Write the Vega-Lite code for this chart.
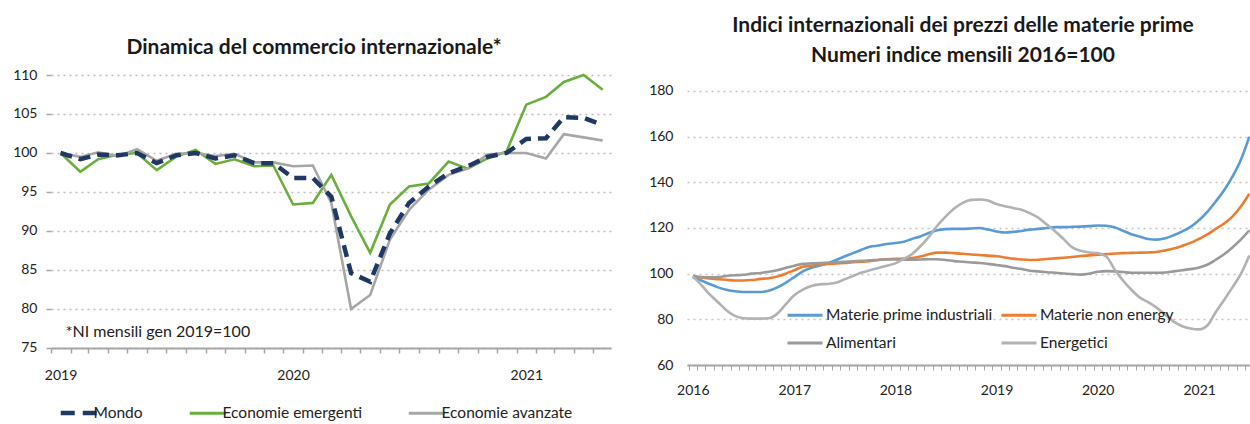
{
  "$schema": "https://vega.github.io/schema/vega-lite/v6.json",
  "background": "white",
  "padding": {"left": 12, "top": 15, "right": 0, "bottom": 0},
  "spacing": 36,
  "resolve": {"scale": {"color": "independent", "x": "independent", "y": "independent"}, "legend": {"color": "independent"}},
  "config": {"font": "Lato", "view": {"stroke": null}},
  "hconcat": [
    {
      "width": 560,
      "height": 290,
      "title": {"text": "Dinamica del commercio internazionale*", "fontSize": 21, "fontWeight": "bold", "frame": "group", "anchor": "middle", "dx": -17, "offset": 10, "color": "#1a1a1a"},
      "layer": [
        {
          "data": {"values": [
            {"d": "2019-01-01", "Mondo": 100, "Economie emergenti": 100, "Economie avanzate": 100},
            {"d": "2019-02-01", "Mondo": 99.2, "Economie emergenti": 97.6, "Economie avanzate": 99.5},
            {"d": "2019-03-01", "Mondo": 99.8, "Economie emergenti": 99.2, "Economie avanzate": 100.1},
            {"d": "2019-04-01", "Mondo": 99.7, "Economie emergenti": 99.8, "Economie avanzate": 99.6},
            {"d": "2019-05-01", "Mondo": 100, "Economie emergenti": 100, "Economie avanzate": 100.5},
            {"d": "2019-06-01", "Mondo": 98.7, "Economie emergenti": 97.8, "Economie avanzate": 99.0},
            {"d": "2019-07-01", "Mondo": 99.7, "Economie emergenti": 99.5, "Economie avanzate": 99.9},
            {"d": "2019-08-01", "Mondo": 100, "Economie emergenti": 100.4, "Economie avanzate": 100},
            {"d": "2019-09-01", "Mondo": 99.3, "Economie emergenti": 98.6, "Economie avanzate": 99.6},
            {"d": "2019-10-01", "Mondo": 99.7, "Economie emergenti": 99.2, "Economie avanzate": 99.9},
            {"d": "2019-11-01", "Mondo": 98.7, "Economie emergenti": 98.3, "Economie avanzate": 98.8},
            {"d": "2019-12-01", "Mondo": 98.7, "Economie emergenti": 98.4, "Economie avanzate": 98.8},
            {"d": "2020-01-01", "Mondo": 96.8, "Economie emergenti": 93.4, "Economie avanzate": 98.3},
            {"d": "2020-02-01", "Mondo": 96.8, "Economie emergenti": 93.6, "Economie avanzate": 98.4},
            {"d": "2020-03-01", "Mondo": 94.4, "Economie emergenti": 97.2, "Economie avanzate": 93.6},
            {"d": "2020-04-01", "Mondo": 84.6, "Economie emergenti": 91.9, "Economie avanzate": 80.0},
            {"d": "2020-05-01", "Mondo": 83.5, "Economie emergenti": 87.2, "Economie avanzate": 81.8},
            {"d": "2020-06-01", "Mondo": 89.7, "Economie emergenti": 93.4, "Economie avanzate": 88.9},
            {"d": "2020-07-01", "Mondo": 93.6, "Economie emergenti": 95.7, "Economie avanzate": 92.7},
            {"d": "2020-08-01", "Mondo": 95.7, "Economie emergenti": 96.1, "Economie avanzate": 95.3},
            {"d": "2020-09-01", "Mondo": 97.4, "Economie emergenti": 98.9, "Economie avanzate": 97.2},
            {"d": "2020-10-01", "Mondo": 98.3, "Economie emergenti": 98.0, "Economie avanzate": 98.0},
            {"d": "2020-11-01", "Mondo": 99.5, "Economie emergenti": 99.3, "Economie avanzate": 99.8},
            {"d": "2020-12-01", "Mondo": 100, "Economie emergenti": 100.2, "Economie avanzate": 100},
            {"d": "2021-01-01", "Mondo": 101.8, "Economie emergenti": 106.2, "Economie avanzate": 100},
            {"d": "2021-02-01", "Mondo": 101.9, "Economie emergenti": 107.2, "Economie avanzate": 99.3},
            {"d": "2021-03-01", "Mondo": 104.6, "Economie emergenti": 109.1, "Economie avanzate": 102.4},
            {"d": "2021-04-01", "Mondo": 104.5, "Economie emergenti": 110, "Economie avanzate": 102.0},
            {"d": "2021-05-01", "Mondo": 103.6, "Economie emergenti": 108.1, "Economie avanzate": 101.6}
          ]},
          "transform": [
            {"fold": ["Mondo", "Economie emergenti", "Economie avanzate"], "as": ["serie", "v"]},
            {"filter": "datum.serie != 'Mondo'"}
          ],
          "mark": {"type": "line", "strokeWidth": 2.6},
          "encoding": {
            "x": {
              "field": "d", "type": "temporal",
              "scale": {"type": "utc", "domain": [{"year": 2018, "month": 12, "date": 17, "utc": true}, {"year": 2021, "month": 5, "date": 14, "utc": true}]},
              "axis": {"title": null, "offset": -17, "tickCount": {"interval": "month", "step": 1}, "labelExpr": "utcmonth(datum.value) == 0 ? utcFormat(datum.value, '%Y') : ''", "labelOverlap": false, "labelFlush": false, "tickOffset": -9.7, "labelOffset": 9.7, "grid": false, "domainColor": "#a6a6a6", "domainWidth": 2, "tickColor": "#a6a6a6", "tickWidth": 1.5, "tickSize": 5, "labelFontSize": 14, "labelColor": "#222222", "labelPadding": 15}
            },
            "y": {
              "field": "v", "type": "quantitative",
              "scale": {"domain": [72.82, 110], "nice": false, "zero": false},
              "axis": {"title": null, "values": [75, 80, 85, 90, 95, 100, 105, 110], "labelOverlap": false, "grid": true, "gridDash": [2, 4], "gridColor": "#bdbdbd", "gridWidth": 1.5, "domain": false, "tickColor": "#a6a6a6", "tickSize": 5, "tickWidth": 1.5, "labelFontSize": 14, "labelColor": "#222222", "labelPadding": 9}
            },
            "color": {
              "field": "serie", "type": "nominal",
              "scale": {"domain": ["Mondo", "Economie emergenti", "Economie avanzate"], "range": ["#1f3864", "#6aaf3d", "#a6a6a6"]},
              "legend": {"title": null, "orient": "none", "legendX": 20, "legendY": 330, "direction": "horizontal", "symbolType": "stroke", "symbolSize": 1296, "symbolStrokeWidth": 3, "labelFontSize": 15.5, "labelColor": "#222222", "labelOffset": 7, "labelLimit": 250, "columnPadding": 40, "padding": 0,
                "encode": {"symbols": {"update": {"strokeDash": {"signal": "datum.value == 'Mondo' ? [14, 8] : [1, 0]"}, "strokeWidth": {"signal": "datum.value == 'Mondo' ? 4.5 : 3"}}}}}
            }
          }
        },
        {
          "data": {"values": [
            {"d": "2019-01-01", "v": 100}, {"d": "2019-02-01", "v": 99.2}, {"d": "2019-03-01", "v": 99.8},
            {"d": "2019-04-01", "v": 99.7}, {"d": "2019-05-01", "v": 100}, {"d": "2019-06-01", "v": 98.7},
            {"d": "2019-07-01", "v": 99.7}, {"d": "2019-08-01", "v": 100}, {"d": "2019-09-01", "v": 99.3},
            {"d": "2019-10-01", "v": 99.7}, {"d": "2019-11-01", "v": 98.7}, {"d": "2019-12-01", "v": 98.7},
            {"d": "2020-01-01", "v": 96.8}, {"d": "2020-02-01", "v": 96.8}, {"d": "2020-03-01", "v": 94.4},
            {"d": "2020-04-01", "v": 84.6}, {"d": "2020-05-01", "v": 83.5}, {"d": "2020-06-01", "v": 89.7},
            {"d": "2020-07-01", "v": 93.6}, {"d": "2020-08-01", "v": 95.7}, {"d": "2020-09-01", "v": 97.4},
            {"d": "2020-10-01", "v": 98.3}, {"d": "2020-11-01", "v": 99.5}, {"d": "2020-12-01", "v": 100},
            {"d": "2021-01-01", "v": 101.8}, {"d": "2021-02-01", "v": 101.9}, {"d": "2021-03-01", "v": 104.6},
            {"d": "2021-04-01", "v": 104.5}, {"d": "2021-05-01", "v": 103.6}
          ]},
          "transform": [{"calculate": "'Mondo'", "as": "serie"}],
          "mark": {"type": "line", "strokeWidth": 4.5, "strokeDash": [12, 7]},
          "encoding": {
            "x": {"field": "d", "type": "temporal"},
            "y": {"field": "v", "type": "quantitative"},
            "color": {"field": "serie", "type": "nominal"}
          }
        },
        {
          "mark": {"type": "rule", "color": "#a6a6a6", "strokeWidth": 2},
          "encoding": {
            "x": {"datum": {"year": 2018, "month": 12, "date": 17, "utc": true}, "type": "temporal"},
            "y": {"datum": 75, "type": "quantitative"},
            "y2": {"datum": 110}
          }
        },
        {
          "data": {"values": [{"nota": "*NI mensili gen 2019=100"}]},
          "mark": {"type": "text", "align": "left", "baseline": "middle", "fontSize": 16, "color": "#222222"},
          "encoding": {
            "x": {"datum": {"year": 2019, "month": 1, "date": 9, "utc": true}, "type": "temporal"},
            "y": {"datum": 77.1, "type": "quantitative"},
            "text": {"field": "nota"}
          }
        }
      ]
    },
    {
      "width": 564,
      "height": 290,
      "title": {"text": ["Indici internazionali dei prezzi delle materie prime", "Numeri indice mensili 2016=100"], "fontSize": 21, "fontWeight": "bold", "lineHeight": 30, "frame": "group", "anchor": "middle", "dx": -6, "offset": 9, "color": "#1a1a1a"},
      "data": {"values": [
        {"d": "2016-01-01", "Materie prime industriali": 98.5, "Materie non energy": 99, "Alimentari": 99, "Energetici": 98.8},
        {"d": "2016-02-01", "Materie prime industriali": 97, "Materie non energy": 98.3, "Alimentari": 98.5, "Energetici": 95},
        {"d": "2016-03-01", "Materie prime industriali": 95.5, "Materie non energy": 97.9, "Alimentari": 98.4, "Energetici": 91},
        {"d": "2016-04-01", "Materie prime industriali": 94, "Materie non energy": 97.6, "Alimentari": 98.5, "Energetici": 87.5},
        {"d": "2016-05-01", "Materie prime industriali": 93, "Materie non energy": 97.3, "Alimentari": 99, "Energetici": 84},
        {"d": "2016-06-01", "Materie prime industriali": 92.3, "Materie non energy": 97, "Alimentari": 99.3, "Energetici": 81.5},
        {"d": "2016-07-01", "Materie prime industriali": 92, "Materie non energy": 97, "Alimentari": 99.5, "Energetici": 80.5},
        {"d": "2016-08-01", "Materie prime industriali": 92, "Materie non energy": 97.2, "Alimentari": 100, "Energetici": 80.3},
        {"d": "2016-09-01", "Materie prime industriali": 92, "Materie non energy": 97.7, "Alimentari": 100.3, "Energetici": 80.3},
        {"d": "2016-10-01", "Materie prime industriali": 92.5, "Materie non energy": 98, "Alimentari": 100.8, "Energetici": 80.5},
        {"d": "2016-11-01", "Materie prime industriali": 94, "Materie non energy": 98.8, "Alimentari": 101.5, "Energetici": 82.5},
        {"d": "2016-12-01", "Materie prime industriali": 96, "Materie non energy": 100, "Alimentari": 102.5, "Energetici": 86.5},
        {"d": "2017-01-01", "Materie prime industriali": 98.5, "Materie non energy": 101.5, "Alimentari": 103.5, "Energetici": 90.5},
        {"d": "2017-02-01", "Materie prime industriali": 101, "Materie non energy": 103, "Alimentari": 104.3, "Energetici": 93},
        {"d": "2017-03-01", "Materie prime industriali": 102.5, "Materie non energy": 103.5, "Alimentari": 104.5, "Energetici": 94.5},
        {"d": "2017-04-01", "Materie prime industriali": 103.5, "Materie non energy": 103.9, "Alimentari": 104.6, "Energetici": 95.3},
        {"d": "2017-05-01", "Materie prime industriali": 104.5, "Materie non energy": 104.2, "Alimentari": 104.8, "Energetici": 95.5},
        {"d": "2017-06-01", "Materie prime industriali": 106, "Materie non energy": 104.5, "Alimentari": 105, "Energetici": 96},
        {"d": "2017-07-01", "Materie prime industriali": 107.5, "Materie non energy": 104.7, "Alimentari": 105.2, "Energetici": 97.5},
        {"d": "2017-08-01", "Materie prime industriali": 109, "Materie non energy": 105, "Alimentari": 105.4, "Energetici": 99},
        {"d": "2017-09-01", "Materie prime industriali": 110.5, "Materie non energy": 105.2, "Alimentari": 105.6, "Energetici": 100.5},
        {"d": "2017-10-01", "Materie prime industriali": 111.8, "Materie non energy": 105.5, "Alimentari": 105.8, "Energetici": 101.5},
        {"d": "2017-11-01", "Materie prime industriali": 112.3, "Materie non energy": 106, "Alimentari": 106.1, "Energetici": 102.5},
        {"d": "2017-12-01", "Materie prime industriali": 113, "Materie non energy": 106.3, "Alimentari": 106.2, "Energetici": 103.5},
        {"d": "2018-01-01", "Materie prime industriali": 113.4, "Materie non energy": 106.5, "Alimentari": 106.2, "Energetici": 104.5},
        {"d": "2018-02-01", "Materie prime industriali": 114, "Materie non energy": 106.6, "Alimentari": 106.1, "Energetici": 106.5},
        {"d": "2018-03-01", "Materie prime industriali": 115.2, "Materie non energy": 106.8, "Alimentari": 106.1, "Energetici": 108.5},
        {"d": "2018-04-01", "Materie prime industriali": 116.3, "Materie non energy": 107.5, "Alimentari": 106.2, "Energetici": 112},
        {"d": "2018-05-01", "Materie prime industriali": 117.8, "Materie non energy": 108.5, "Alimentari": 106.3, "Energetici": 116},
        {"d": "2018-06-01", "Materie prime industriali": 119, "Materie non energy": 109.2, "Alimentari": 106.3, "Energetici": 121},
        {"d": "2018-07-01", "Materie prime industriali": 119.5, "Materie non energy": 109.2, "Alimentari": 106, "Energetici": 125},
        {"d": "2018-08-01", "Materie prime industriali": 119.6, "Materie non energy": 109, "Alimentari": 105.5, "Energetici": 128.5},
        {"d": "2018-09-01", "Materie prime industriali": 119.6, "Materie non energy": 108.7, "Alimentari": 105.2, "Energetici": 131},
        {"d": "2018-10-01", "Materie prime industriali": 119.8, "Materie non energy": 108.4, "Alimentari": 104.9, "Energetici": 132.3},
        {"d": "2018-11-01", "Materie prime industriali": 120, "Materie non energy": 108.2, "Alimentari": 104.7, "Energetici": 132.5},
        {"d": "2018-12-01", "Materie prime industriali": 119.3, "Materie non energy": 107.9, "Alimentari": 104.3, "Energetici": 132},
        {"d": "2019-01-01", "Materie prime industriali": 118.5, "Materie non energy": 107.6, "Alimentari": 103.8, "Energetici": 130.5},
        {"d": "2019-02-01", "Materie prime industriali": 118, "Materie non energy": 107.1, "Alimentari": 103.3, "Energetici": 129.5},
        {"d": "2019-03-01", "Materie prime industriali": 118.3, "Materie non energy": 106.6, "Alimentari": 102.6, "Energetici": 128.8},
        {"d": "2019-04-01", "Materie prime industriali": 118.7, "Materie non energy": 106.2, "Alimentari": 102, "Energetici": 128},
        {"d": "2019-05-01", "Materie prime industriali": 119.3, "Materie non energy": 106, "Alimentari": 101.3, "Energetici": 126.5},
        {"d": "2019-06-01", "Materie prime industriali": 119.6, "Materie non energy": 106.1, "Alimentari": 101, "Energetici": 124.5},
        {"d": "2019-07-01", "Materie prime industriali": 120, "Materie non energy": 106.4, "Alimentari": 100.6, "Energetici": 121.5},
        {"d": "2019-08-01", "Materie prime industriali": 120.4, "Materie non energy": 106.7, "Alimentari": 100.4, "Energetici": 118.5},
        {"d": "2019-09-01", "Materie prime industriali": 120.4, "Materie non energy": 107, "Alimentari": 100.1, "Energetici": 115},
        {"d": "2019-10-01", "Materie prime industriali": 120.5, "Materie non energy": 107.3, "Alimentari": 99.8, "Energetici": 111.5},
        {"d": "2019-11-01", "Materie prime industriali": 120.6, "Materie non energy": 107.7, "Alimentari": 99.6, "Energetici": 110},
        {"d": "2019-12-01", "Materie prime industriali": 120.8, "Materie non energy": 108, "Alimentari": 100, "Energetici": 109.3},
        {"d": "2020-01-01", "Materie prime industriali": 121.1, "Materie non energy": 108.3, "Alimentari": 100.8, "Energetici": 109},
        {"d": "2020-02-01", "Materie prime industriali": 121, "Materie non energy": 108.6, "Alimentari": 101.1, "Energetici": 107.5},
        {"d": "2020-03-01", "Materie prime industriali": 120.3, "Materie non energy": 108.8, "Alimentari": 101, "Energetici": 102},
        {"d": "2020-04-01", "Materie prime industriali": 118.8, "Materie non energy": 109, "Alimentari": 100.7, "Energetici": 97},
        {"d": "2020-05-01", "Materie prime industriali": 117.3, "Materie non energy": 109.1, "Alimentari": 100.4, "Energetici": 93},
        {"d": "2020-06-01", "Materie prime industriali": 116.2, "Materie non energy": 109.2, "Alimentari": 100.4, "Energetici": 89.5},
        {"d": "2020-07-01", "Materie prime industriali": 115.2, "Materie non energy": 109.3, "Alimentari": 100.4, "Energetici": 87.5},
        {"d": "2020-08-01", "Materie prime industriali": 114.9, "Materie non energy": 109.5, "Alimentari": 100.4, "Energetici": 85},
        {"d": "2020-09-01", "Materie prime industriali": 115.5, "Materie non energy": 110.2, "Alimentari": 100.5, "Energetici": 82},
        {"d": "2020-10-01", "Materie prime industriali": 116.8, "Materie non energy": 111, "Alimentari": 101, "Energetici": 79},
        {"d": "2020-11-01", "Materie prime industriali": 118.5, "Materie non energy": 112.2, "Alimentari": 101.5, "Energetici": 77},
        {"d": "2020-12-01", "Materie prime industriali": 120.5, "Materie non energy": 113.5, "Alimentari": 102, "Energetici": 76},
        {"d": "2021-01-01", "Materie prime industriali": 123.5, "Materie non energy": 115.3, "Alimentari": 102.7, "Energetici": 75.6},
        {"d": "2021-02-01", "Materie prime industriali": 127.3, "Materie non energy": 117.3, "Alimentari": 104, "Energetici": 77.5},
        {"d": "2021-03-01", "Materie prime industriali": 131.5, "Materie non energy": 119.6, "Alimentari": 106, "Energetici": 83},
        {"d": "2021-04-01", "Materie prime industriali": 136.5, "Materie non energy": 122, "Alimentari": 108.5, "Energetici": 88.5},
        {"d": "2021-05-01", "Materie prime industriali": 142.5, "Materie non energy": 125, "Alimentari": 111.5, "Energetici": 94},
        {"d": "2021-06-01", "Materie prime industriali": 150, "Materie non energy": 129.5, "Alimentari": 115, "Energetici": 100},
        {"d": "2021-07-01", "Materie prime industriali": 160, "Materie non energy": 135, "Alimentari": 119, "Energetici": 108}
      ]},
      "transform": [{"fold": ["Materie prime industriali", "Materie non energy", "Alimentari", "Energetici"], "as": ["materia", "v"]}],
      "mark": {"type": "line", "strokeWidth": 2.6, "interpolate": "monotone"},
      "encoding": {
        "x": {
          "field": "d", "type": "temporal",
          "scale": {"type": "utc", "domain": [{"year": 2015, "month": 12, "date": 11, "utc": true}, {"year": 2021, "month": 7, "date": 7, "utc": true}]},
          "axis": {"title": null, "tickCount": {"interval": "month", "step": 1}, "labelExpr": "utcmonth(datum.value) == 0 ? utcFormat(datum.value, '%Y') : ''", "labelOverlap": false, "labelFlush": false, "tickOffset": -4.19, "labelOffset": 4.19, "grid": false, "domainColor": "#a6a6a6", "domainWidth": 2, "tickColor": "#a6a6a6", "tickWidth": 1, "tickSize": 5, "labelFontSize": 14, "labelColor": "#222222", "labelPadding": 13}
        },
        "y": {
          "field": "v", "type": "quantitative",
          "scale": {"domain": [60, 187], "nice": false, "zero": false},
          "axis": {"title": null, "values": [60, 80, 100, 120, 140, 160, 180], "labelOverlap": false, "grid": true, "gridDash": [2, 4], "gridColor": "#c4c4c4", "gridWidth": 1.5, "domain": false, "ticks": false, "labelFontSize": 14, "labelColor": "#222222", "labelPadding": 14}
        },
        "color": {
          "field": "materia", "type": "nominal",
          "scale": {"domain": ["Materie prime industriali", "Materie non energy", "Alimentari", "Energetici"], "range": ["#5b9bd5", "#ed7d31", "#9a9a9a", "#b2b2b2"]},
          "legend": {"title": null, "orient": "none", "legendX": 97, "legendY": 219, "columns": 2, "direction": "horizontal", "symbolType": "stroke", "symbolSize": 1225, "symbolStrokeWidth": 3, "labelFontSize": 15.5, "labelColor": "#222222", "labelOffset": 2, "labelLimit": 300, "columnPadding": 2, "rowPadding": -7, "padding": 2}
        }
      }
    }
  ]
}
